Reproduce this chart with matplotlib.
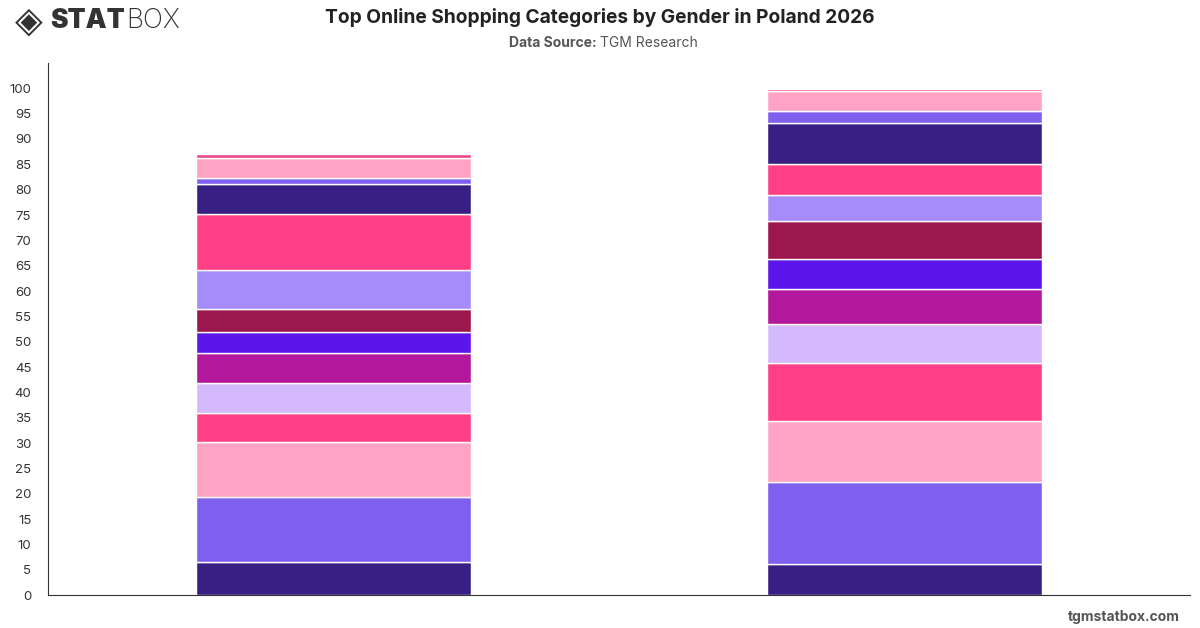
import numpy as np
import matplotlib.pyplot as plt

plt.rcParams['font.family'] = ['Inter', 'DejaVu Sans']

genders = ["Male", "Female"]

# segment values, bottom to top
male = [6.5, 12.8, 10.9, 5.7, 5.9, 6.0, 4.1, 4.6, 7.7, 11.0, 6.0, 1.2, 3.9, 0.8]
female = [6.1, 16.2, 12.0, 11.4, 7.8, 6.9, 5.9, 7.6, 5.1, 6.1, 8.1, 2.3, 4.0, 0.3]

colors = ["#391E84", "#7F5FEE", "#FFA3C4", "#FF3F86", "#D4BAFC",
          "#B3179C", "#5C16EB", "#9C174D", "#A68BFA", "#FF3F86",
          "#391E84", "#7F5FEE", "#FFA3C4", "#E8488A"]

yticks = list(range(0, 101, 5))

fig = plt.figure(figsize=(12, 6.28), dpi=100)
ax = fig.add_axes([0.04, 0.0525, 0.9517, 0.8472])

x = np.arange(len(genders))
vals = np.array([male, female])
bottom = np.zeros(len(genders))
for i in range(vals.shape[1]):
    ax.bar(x, vals[:, i], bottom=bottom, width=0.48, color=colors[i],
           edgecolor="white", linewidth=1)
    bottom += vals[:, i]

ax.set_xlim(-0.5, 1.5)
ax.set_ylim(0, 105)
ax.set_yticks(yticks)
ax.set_xticks(x)
ax.set_xticklabels(["", ""])
ax.tick_params(axis="both", length=0, labelsize=9.5, colors="#333333", pad=12)
for s in ["top", "right"]:
    ax.spines[s].set_visible(False)
ax.spines["left"].set_color("#333333")
ax.spines["bottom"].set_color("#333333")

fig.text(0.5, 0.972, "Top Online Shopping Categories by Gender in Poland 2026",
         ha="center", va="center", fontsize=13.8, fontweight="bold", color="#222222")
fig.text(0.5, 0.931, "Data Source: ", ha="right", va="center", fontsize=10,
         fontweight="bold", color="#555555")
fig.text(0.5, 0.931, "TGM Research", ha="left", va="center", fontsize=10,
         color="#555555")

# logo
fig.text(0.012, 0.966, "◈", ha="left", va="center", fontsize=26,
         color="#333333", family="DejaVu Sans")
stat = fig.text(0.042, 0.966, "STAT", ha="left", va="center", fontsize=19,
                fontweight="black", color="#333333")
fig.canvas.draw()
bb = stat.get_window_extent().transformed(fig.transFigure.inverted())
fig.text(bb.x1 + 0.001, 0.966, "BOX", ha="left", va="center", fontsize=19,
         fontweight="light", color="#333333")

fig.text(0.983, 0.018, "tgmstatbox.com", ha="right", va="center", fontsize=10,
         fontweight="bold", color="#555555")

fig.savefig("out.png", dpi=100)
